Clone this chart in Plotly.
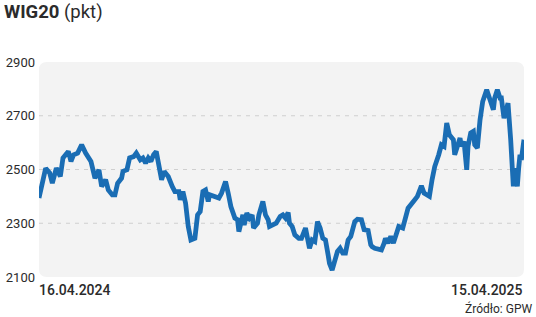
import pandas as pd
import plotly.graph_objects as go

# Days since 16.04.2024 and WIG20 values (pkt)
day_offsets = [0, 3, 5, 8, 10, 13, 16, 18, 20, 22, 24, 26, 29, 32, 35, 39, 42, 45, 47, 50,
               52, 55, 57, 59, 62, 63, 66, 68, 71, 73, 76, 78, 80, 82, 84, 86, 88, 90, 92, 94,
               97, 100, 102, 105, 106, 108, 110, 112, 114, 117, 119, 121, 123, 125, 127, 128, 132, 135, 137, 140,
               142, 144, 147, 149, 150, 153, 154, 156, 158, 160, 161, 164, 165, 168, 170, 172, 173, 176, 178, 181,
               183, 185, 187, 188, 190, 192, 195, 197, 200, 202, 203, 205, 207, 209, 211, 213, 215, 217, 218, 220,
               222, 224, 226, 228, 230, 232, 234, 237, 239, 242, 244, 247, 249, 250, 252, 255, 257, 259, 260, 262,
               264, 266, 268, 270, 273, 276, 277, 281, 284, 287, 289, 291, 293, 295, 297, 300, 302, 304, 306, 308,
               310, 311, 312, 314, 316, 317, 319, 321, 322, 324, 326, 327, 329, 331, 333, 336, 338, 341, 342, 344,
               346, 347, 349, 351, 352, 354, 355, 356, 357, 359, 360, 361, 362, 364]
values = [2394, 2462, 2505, 2487, 2449, 2505, 2474, 2543, 2555, 2567, 2530, 2555, 2561, 2592, 2561, 2530, 2468, 2499, 2437, 2462,
          2424, 2406, 2406, 2449, 2468, 2493, 2499, 2543, 2548, 2561, 2536, 2543, 2524, 2543, 2530, 2555, 2567, 2524, 2462, 2493,
          2474, 2437, 2418, 2418, 2387, 2418, 2375, 2288, 2238, 2244, 2331, 2344, 2418, 2424, 2381, 2406, 2400, 2394, 2412, 2455,
          2412, 2362, 2319, 2313, 2269, 2331, 2294, 2338, 2319, 2331, 2282, 2300, 2331, 2381, 2331, 2313, 2288, 2294, 2300, 2325,
          2331, 2319, 2340, 2300, 2288, 2257, 2244, 2244, 2282, 2232, 2207, 2238, 2232, 2306, 2282, 2244, 2238, 2182, 2151, 2126,
          2164, 2195, 2207, 2189, 2189, 2238, 2251, 2306, 2315, 2313, 2276, 2273, 2220, 2213, 2207, 2203, 2201, 2226, 2244, 2226,
          2251, 2226, 2257, 2288, 2282, 2331, 2356, 2381, 2400, 2439, 2412, 2406, 2400, 2462, 2511, 2555, 2592, 2586, 2673, 2629,
          2611, 2611, 2555, 2580, 2617, 2586, 2604, 2499, 2586, 2636, 2642, 2592, 2580, 2685, 2753, 2797, 2766, 2722, 2766, 2797,
          2766, 2766, 2691, 2735, 2747, 2611, 2474, 2437, 2505, 2437, 2505, 2555, 2536, 2611]

start_date = "2024-04-16"
y_ticks = [2100, 2300, 2500, 2700, 2900]
grid_values = [2300, 2500, 2700]
x_tick_labels = ["16.04.2024", "15.04.2025"]
title_main = "WIG20"
title_unit = "(pkt)"
source_text = "Źródło: GPW"

dates = pd.Timestamp(start_date) + pd.to_timedelta(day_offsets, unit="D")

FONT = "Roboto, Noto Sans, DejaVu Sans"
TXT = "#2b2b2b"

fig = go.Figure()
fig.add_trace(go.Scatter(
    x=dates, y=values, mode="lines",
    line=dict(color="#1a6db4", width=4.8, shape="linear"),
    hoverinfo="skip", showlegend=False, cliponaxis=False,
))

# rounded light-grey plot background (paper coords)
rx, ry = 8 / 485, 8 / 215
path = (f"M {rx},0 L {1-rx},0 Q 1,0 1,{ry} L 1,{1-ry} Q 1,1 {1-rx},1 "
        f"L {rx},1 Q 0,1 0,{1-ry} L 0,{ry} Q 0,0 {rx},0 Z")
shapes = [dict(type="path", xref="paper", yref="paper", path=path,
               fillcolor="#f3f3f3", line=dict(width=0), layer="below")]
for g in grid_values:
    shapes.append(dict(type="line", xref="paper", yref="y", x0=0, x1=1, y0=g, y1=g,
                       line=dict(color="#cfcfcf", width=1, dash="4px,5px"), layer="below"))

annotations = [
    dict(text=f"<b>{title_main}</b> {title_unit}", xref="paper", yref="paper",
         x=-37 / 485, y=1 + 50 / 215, xanchor="left", yanchor="middle",
         showarrow=False, font=dict(family=FONT, size=18.5, color=TXT)),
    dict(text=x_tick_labels[0], xref="paper", yref="paper", x=-2 / 485, y=-3 / 215,
         xanchor="left", yanchor="top", showarrow=False,
         font=dict(family="Roboto Medium, Roboto", size=14, color=TXT)),
    dict(text=x_tick_labels[1], xref="paper", yref="paper", x=1 + 1 / 485, y=-3 / 215,
         xanchor="right", yanchor="top", showarrow=False,
         font=dict(family="Roboto Medium, Roboto", size=14, color=TXT)),
    dict(text=source_text, xref="paper", yref="paper", x=1 + 10 / 485, y=-22 / 215,
         xanchor="right", yanchor="top", showarrow=False,
         font=dict(family=FONT, size=12, color=TXT)),
]

fig.update_layout(
    width=536, height=317,
    margin=dict(l=39, r=12, t=62, b=40),
    paper_bgcolor="white", plot_bgcolor="rgba(0,0,0,0)",
    shapes=shapes, annotations=annotations,
    xaxis=dict(range=[dates[0], dates[-1]], showgrid=False, showticklabels=False,
               zeroline=False, showline=False, ticks="", automargin=False),
    yaxis=dict(range=[y_ticks[0], y_ticks[-1]], tickvals=y_ticks, showgrid=False,
               zeroline=False, showline=False, ticks="", automargin=False,
               tickfont=dict(family=FONT, size=13, color=TXT), ticklabelstandoff=3),
)

fig.write_html("out.html")
